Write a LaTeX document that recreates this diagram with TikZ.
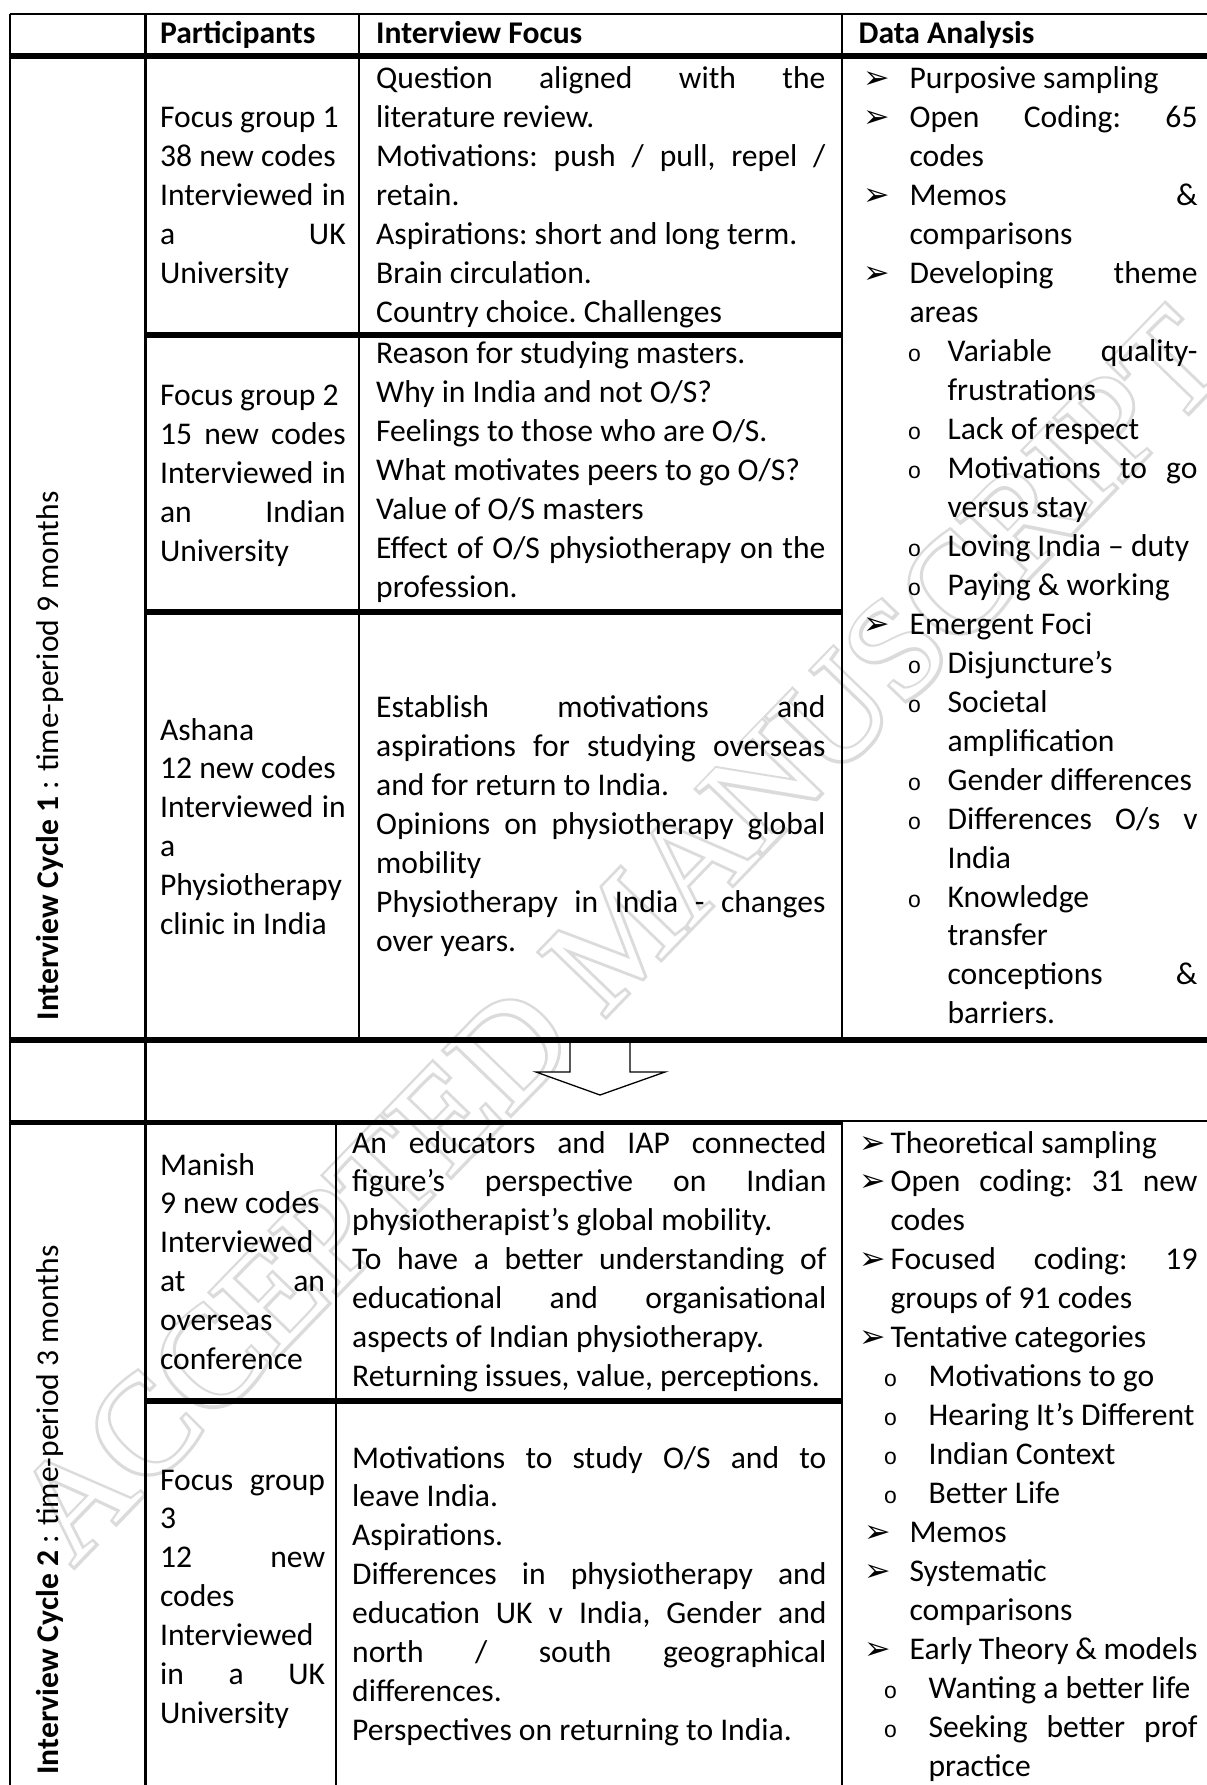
\documentclass[tikz,border=0pt]{standalone}
\usepackage{fontspec}
\setmainfont{Carlito}
\newfontfamily\arrowfont{DejaVu Sans}
\newfontfamily\ringfont{Liberation Mono}
\newfontfamily\wmfont{Liberation Serif}
\newfontfamily\wmthick{Liberation Serif}[FakeBold=4]
% one drawing unit = one pixel of the table grid
\newlength\px
\setlength\px{0.3481pt}
\newcommand\arrbul{{\arrowfont\fontsize{11}{11}\selectfont ➢}}
\newcommand\ringbul{{\ringfont\fontsize{8}{8}\selectfont o}}
% list item: #1 text indent, #2 bullet position (both in px from the cell's left), #3 bullet, #4 text
\newcommand\bitem[4]{\leftskip=#1\px\noindent\llap{\makebox[\dimexpr#1\px-#2\px\relax][l]{#3}}#4\par}
\newcommand\cellsetup{\fontsize{11}{13.56}\selectfont\frenchspacing
  \hyphenpenalty=10000 \exhyphenpenalty=10000 \tolerance=10000 \hbadness=10000 \parskip=0pt}
\tikzset{
  thin rule/.style={line width=0.75pt},
  thick rule/.style={line width=1.85pt},
  cell/.style={anchor=base west, inner sep=0pt, align=justify, font=\cellsetup},
  head/.style={anchor=base west, inner sep=0pt, font=\fontsize{11}{13.56}\selectfont\bfseries},
  cycle label/.style={anchor=base west, inner sep=0pt, rotate=90, font=\fontsize{11}{13.56}\selectfont},
  block arrow/.style={draw, line width=0.45pt, fill=white, line join=miter},
  watermark/.style={rotate=46, inner sep=0pt, anchor=base west, font=\fontsize{49}{49}\selectfont},
}
\begin{document}
\begin{tikzpicture}[x=0.3481pt, y=-0.3481pt]
\useasboundingbox (0,0) rectangle (1206,1785);

% faint outlined watermark behind the table
\node[watermark, text=black!14] (wmout) at (73,1568) {\wmthick ACCEPTED MANUSCRIPT};
\node[watermark, text=white] (wmin) at (73,1568) {\wmfont ACCEPTED MANUSCRIPT};

% ---------- rules ----------
\draw[thin rule] (10,14) -- (1230,14);
\draw[thin rule] (10,14) -- (10,1800);
\draw[thin rule] (145.5,14) -- (145.5,1800);
\draw[thin rule] (359,14) -- (359,1040);
\draw[thin rule] (842,14) -- (842,1040);
\draw[thin rule] (336,1122) -- (336,1800);
\draw[thin rule] (842,1121) -- (842,1800);
\draw[thin rule] (842,1121) -- (1230,1121);

% block arrow between the two cycles
\draw[block arrow] (570,1040) -- (570,1072) -- (536,1072) -- (600,1095)
  -- (665,1072) -- (630,1072) -- (630,1040);

\draw[thick rule] (10,56) -- (1230,56);
\draw[thick rule] (145.5,335) -- (842,335);
\draw[thick rule] (145.5,612) -- (842,612);
\draw[thick rule] (10,1040) -- (1230,1040);
\draw[thick rule] (10,1122.5) -- (842,1122.5);
\draw[thick rule] (145.5,1401) -- (842,1401);

% ---------- header ----------
\node[head] (hpart) at (159.5,44) {Participants};
\node[head] (hfocus) at (375.6,44) {Interview Focus};
\node[head] (hdata) at (858,44) {Data Analysis};

% ---------- cycle labels ----------
\node[cycle label] (cyc1) at (58,1021) {\textbf{Interview Cycle 1} : time-period 9 months};
\node[cycle label] (cyc2) at (58,1775) {\textbf{Interview Cycle 2} : time-period 3 months};

% ---------- cycle 1 ----------
\node[cell, text width=64.6pt] (p1) at (159.5,128)
  {Focus group 1\par 38 new codes\par Interviewed in\linebreak a UK\linebreak University};
\node[cell, text width=156.4pt] (f1) at (375.6,89)
  {Question aligned with the\linebreak literature review.\par
   Motivations: push / pull, repel /\linebreak retain.\par
   Aspirations: short and long term.\par
   Brain circulation.\par
   Country choice. Challenges};

\node[cell, text width=64.6pt] (p2) at (159.5,406)
  {Focus group 2\par 15 new codes\linebreak Interviewed in\linebreak an Indian\linebreak University};
\node[cell, text width=156.4pt] (f2) at (375.6,364)
  {Reason for studying masters.\par
   Why in India and not O/S?\par
   Feelings to those who are O/S.\par
   What motivates peers to go O/S?\par
   Value of O/S masters\par
   Effect of O/S physiotherapy on the\linebreak profession.};

\node[cell, text width=64.6pt] (p3) at (159.5,740)
  {Ashana\par 12 new codes\par Interviewed in\linebreak a\linebreak Physiotherapy\linebreak clinic in India};
\node[cell, text width=156.4pt] (f3) at (375.6,718)
  {Establish motivations and\linebreak aspirations for studying overseas\linebreak and for return to India.\par
   Opinions on physiotherapy global\linebreak mobility\par
   Physiotherapy in India - changes\linebreak over years.};

\node[cell, text width=118pt] (d1) at (858,89) {%
  \bitem{51}{5}{\arrbul}{Purposive sampling}%
  \bitem{51}{5}{\arrbul}{Open Coding: 65\linebreak codes}%
  \bitem{51}{5}{\arrbul}{Memos \&\linebreak comparisons}%
  \bitem{51}{5}{\arrbul}{Developing theme\linebreak areas}%
  \bitem{89}{49}{\ringbul}{Variable quality-\linebreak frustrations}%
  \bitem{89}{49}{\ringbul}{Lack of respect}%
  \bitem{89}{49}{\ringbul}{Motivations to go\linebreak versus stay}%
  \bitem{89}{49}{\ringbul}{Loving India – duty}%
  \bitem{89}{49}{\ringbul}{Paying \& working}%
  \bitem{51}{5}{\arrbul}{Emergent Foci}%
  \bitem{89}{49}{\ringbul}{Disjuncture’s}%
  \bitem{89}{49}{\ringbul}{Societal\linebreak amplification}%
  \bitem{89}{49}{\ringbul}{Gender differences}%
  \bitem{89}{49}{\ringbul}{Differences O/s v\linebreak India}%
  \bitem{89}{49}{\ringbul}{Knowledge\linebreak transfer\linebreak conceptions \&\linebreak barriers.}};

% ---------- cycle 2 ----------
\node[cell, text width=57.44pt] (p4) at (159.5,1175)
  {Manish\par 9 new codes\par Interviewed\linebreak at an\linebreak overseas\linebreak conference};
\node[cell, text width=165.1pt] (f4) at (351.6,1153)
  {An educators and IAP connected\linebreak figure’s perspective on Indian\linebreak physiotherapist’s global mobility.\par
   To have a better understanding of\linebreak educational and organisational\linebreak aspects of Indian physiotherapy.\par
   Returning issues, value, perceptions.};

\node[cell, text width=57.44pt] (p5) at (159.5,1490)
  {Focus group\linebreak 3\par 12 new\linebreak codes\linebreak Interviewed\linebreak in a UK\linebreak University};
\node[cell, text width=165.1pt] (f5) at (351.6,1468)
  {Motivations to study O/S and to\linebreak leave India.\par
   Aspirations.\par
   Differences in physiotherapy and\linebreak education UK v India, Gender and\linebreak north / south geographical\linebreak differences.\par
   Perspectives on returning to India.};

\node[cell, text width=118pt] (d2) at (858,1153) {%
  \bitem{32}{1}{\arrbul}{Theoretical sampling}%
  \bitem{32}{1}{\arrbul}{Open coding: 31 new\linebreak codes}%
  \bitem{32}{1}{\arrbul}{Focused coding: 19\linebreak groups of 91 codes}%
  \bitem{32}{1}{\arrbul}{Tentative categories}%
  \bitem{70}{25}{\ringbul}{Motivations to go}%
  \bitem{70}{25}{\ringbul}{Hearing It’s Different}%
  \bitem{70}{25}{\ringbul}{Indian Context}%
  \bitem{70}{25}{\ringbul}{Better Life}%
  \bitem{51}{6}{\arrbul}{Memos}%
  \bitem{51}{6}{\arrbul}{Systematic\linebreak comparisons}%
  \bitem{51}{6}{\arrbul}{Early Theory \& models}%
  \bitem{70}{25}{\ringbul}{Wanting a better life}%
  \bitem{70}{25}{\ringbul}{Seeking better prof\linebreak practice}};
\end{tikzpicture}
\end{document}
